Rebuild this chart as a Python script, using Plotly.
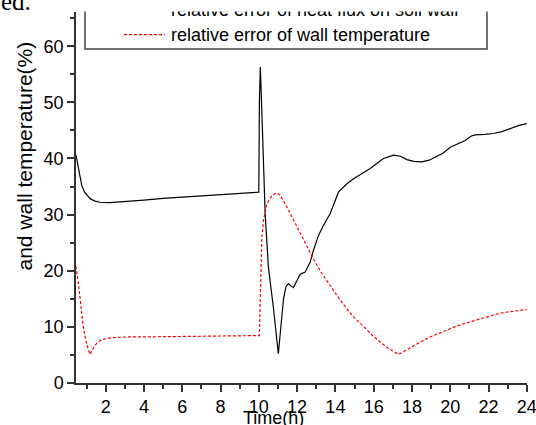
import plotly.graph_objects as go

# ---- data ----
heat_t = [0.45, 0.55, 0.65, 0.75, 0.9, 1.05, 1.2, 1.45, 1.7, 2.2, 3.0, 4.0, 5.0, 6.0, 7.0, 8.0, 9.0, 9.97,
          10.0, 10.03, 10.08, 10.2, 10.33, 10.5, 10.76, 11.02, 11.11, 11.2, 11.29, 11.42, 11.55, 11.68, 11.81,
          12.0, 12.16, 12.42, 12.68, 12.85, 13.12, 13.38, 13.73, 14.16, 14.34, 14.6, 14.95, 15.3, 15.82, 16.2,
          16.51, 17.04, 17.4, 17.74, 18.1, 18.52, 18.9, 19.3, 19.6, 20.0, 20.4, 20.78, 21.1, 21.3, 21.8, 22.26,
          22.7, 23.14, 23.6, 24.0]
heat_err = [40.6, 38.8, 36.8, 35.2, 34.0, 33.3, 32.8, 32.4, 32.2, 32.15, 32.3, 32.6, 32.9, 33.1, 33.35, 33.6, 33.8, 34.0,
            34.0, 50.0, 56.3, 44.0, 30.2, 20.7, 13.5, 5.2, 8.8, 11.8, 15.0, 17.2, 17.7, 17.3, 17.0,
            18.3, 19.4, 19.75, 21.5, 23.6, 26.3, 28.1, 30.2, 34.0, 34.6, 35.5, 36.4, 37.1, 38.2, 39.2,
            40.0, 40.6, 40.4, 39.8, 39.5, 39.4, 39.7, 40.4, 40.9, 42.0, 42.6, 43.2, 44.0, 44.2, 44.3, 44.45,
            44.8, 45.4, 45.9, 46.2]

wall_t = [0.45, 0.6, 0.83, 1.0, 1.18, 1.3, 1.44, 1.6, 1.79, 2.23, 3.1, 5.0, 7.0, 9.98, 10.03, 10.1, 10.16, 10.24,
          10.42, 10.68, 10.94, 11.11, 11.29, 11.64, 11.99, 12.4, 12.85, 13.3, 13.73, 14.16, 14.6, 15.0, 15.47,
          15.9, 16.34, 16.8, 17.3, 17.7, 18.08, 18.5, 18.95, 19.4, 19.83, 20.26, 20.7, 21.14, 21.57, 22.0,
          22.44, 22.9, 23.4, 24.0]
wall_err = [20.8, 17.0, 10.0, 7.0, 5.1, 5.9, 6.7, 7.3, 7.7, 8.05, 8.2, 8.25, 8.3, 8.45, 8.45, 18.0, 26.0, 29.0,
            31.9, 33.4, 33.9, 33.4, 32.5, 30.2, 27.8, 25.0, 22.1, 19.5, 17.3, 15.2, 13.2, 11.6, 10.1,
            8.6, 7.3, 6.1, 5.1, 5.9, 6.7, 7.4, 8.2, 8.85, 9.5, 10.05, 10.55, 11.0, 11.4, 11.85,
            12.3, 12.6, 12.85, 13.1]

series_names = ["relative error of heat flux on soil wall", "relative error of wall temperature"]
x_ticks = [2, 4, 6, 8, 10, 12, 14, 16, 18, 20, 22, 24]
y_ticks = [0, 10, 20, 30, 40, 50, 60]

FONT = "Liberation Sans, Arial, sans-serif"
W, H = 536, 425
ML, MR, MT, MB = 76, 9, 12, 42
PW, PH = W - ML - MR, H - MT - MB
RED_DASH = "3px,2px"


def px_x(p):
    return (p - ML) / PW


def px_y(p):
    return (H - MB - p) / PH


fig = go.Figure()
fig.add_trace(go.Scatter(x=heat_t, y=heat_err, mode="lines", name=series_names[0],
                         showlegend=False, line=dict(color="black", width=1.2)))
fig.add_trace(go.Scatter(x=wall_t, y=wall_err, mode="lines", name=series_names[1],
                         showlegend=False, line=dict(color="#ff0000", width=1.2, dash=RED_DASH)))

axis_common = dict(showline=True, linecolor="#333333", linewidth=1.5, ticks="outside",
                   tickcolor="#333333", tickwidth=1.5, ticklen=7, showgrid=False, zeroline=False,
                   ticklabeloverflow="allow",
                   tickfont=dict(family=FONT, size=18, color="black"))

fig.update_xaxes(range=[0.45, 24.01], tickvals=x_ticks, ticktext=[str(v) for v in x_ticks],
                 minor=dict(dtick=1, tick0=0, ticks="outside", ticklen=4, tickcolor="#333333", tickwidth=1.5),
                 **axis_common)
fig.update_yaxes(range=[0, 66.1], tickvals=y_ticks, ticktext=[str(v) for v in y_ticks],
                 minor=dict(dtick=5, tick0=0, ticks="outside", ticklen=4, tickcolor="#333333", tickwidth=1.5),
                 **axis_common)

# legend box (its top edge is cut off in the reference)
fig.add_shape(type="path", xref="paper", yref="paper",
              path=f"M {px_x(85)},{px_y(0)} L {px_x(85)},{px_y(49)} L {px_x(487)},{px_y(49)} L {px_x(487)},{px_y(0)}",
              line=dict(color="#444444", width=1.5))
# legend samples
fig.add_shape(type="line", xref="paper", yref="paper", x0=px_x(124), x1=px_x(165), y0=px_y(10), y1=px_y(10),
              line=dict(color="black", width=1.2))
fig.add_shape(type="line", xref="paper", yref="paper", x0=px_x(124), x1=px_x(165), y0=px_y(34.7), y1=px_y(34.7),
              line=dict(color="#ff0000", width=1.2, dash=RED_DASH))

legend_font = dict(family=FONT, size=18, color="black")
fig.update_layout(
    width=W, height=H,
    margin=dict(l=ML, r=MR, t=MT, b=MB, autoexpand=False),
    paper_bgcolor="white", plot_bgcolor="white",
    showlegend=False,
    annotations=[
        dict(text=series_names[0], xref="paper", yref="paper", x=px_x(169), y=px_y(9.8),
             xanchor="left", yanchor="middle", showarrow=False, font=legend_font),
        dict(text=series_names[1], xref="paper", yref="paper", x=px_x(169), y=px_y(34.8),
             xanchor="left", yanchor="middle", showarrow=False, font=legend_font),
        # white band at the top edge of the cropped figure
        dict(text=" ", xref="paper", yref="paper", x=px_x(80), y=1.0, xanchor="left", yanchor="bottom",
             width=420, height=12, borderpad=0, bgcolor="white", showarrow=False),
        dict(text="and wall temperature(%)", textangle=-90, xref="paper", yref="paper",
             x=px_x(24), y=px_y(156.5), xanchor="center", yanchor="middle", showarrow=False,
             font=dict(family=FONT, size=21, color="black")),
        dict(text="Time(h)", xref="paper", yref="paper", x=px_x(273.5), y=px_y(405.5),
             xanchor="center", yanchor="top", showarrow=False,
             font=dict(family=FONT, size=18, color="black")),
        dict(text="ed.", xref="paper", yref="paper", x=px_x(-1), y=px_y(-14.5), xanchor="left", yanchor="top",
             showarrow=False, font=dict(family="Liberation Serif, Times New Roman, serif", size=25, color="black")),
    ],
)

fig.write_html("out.html", config={"displayModeBar": False},
               post_script="document.body.style.margin='0px';document.body.style.overflow='hidden';")
